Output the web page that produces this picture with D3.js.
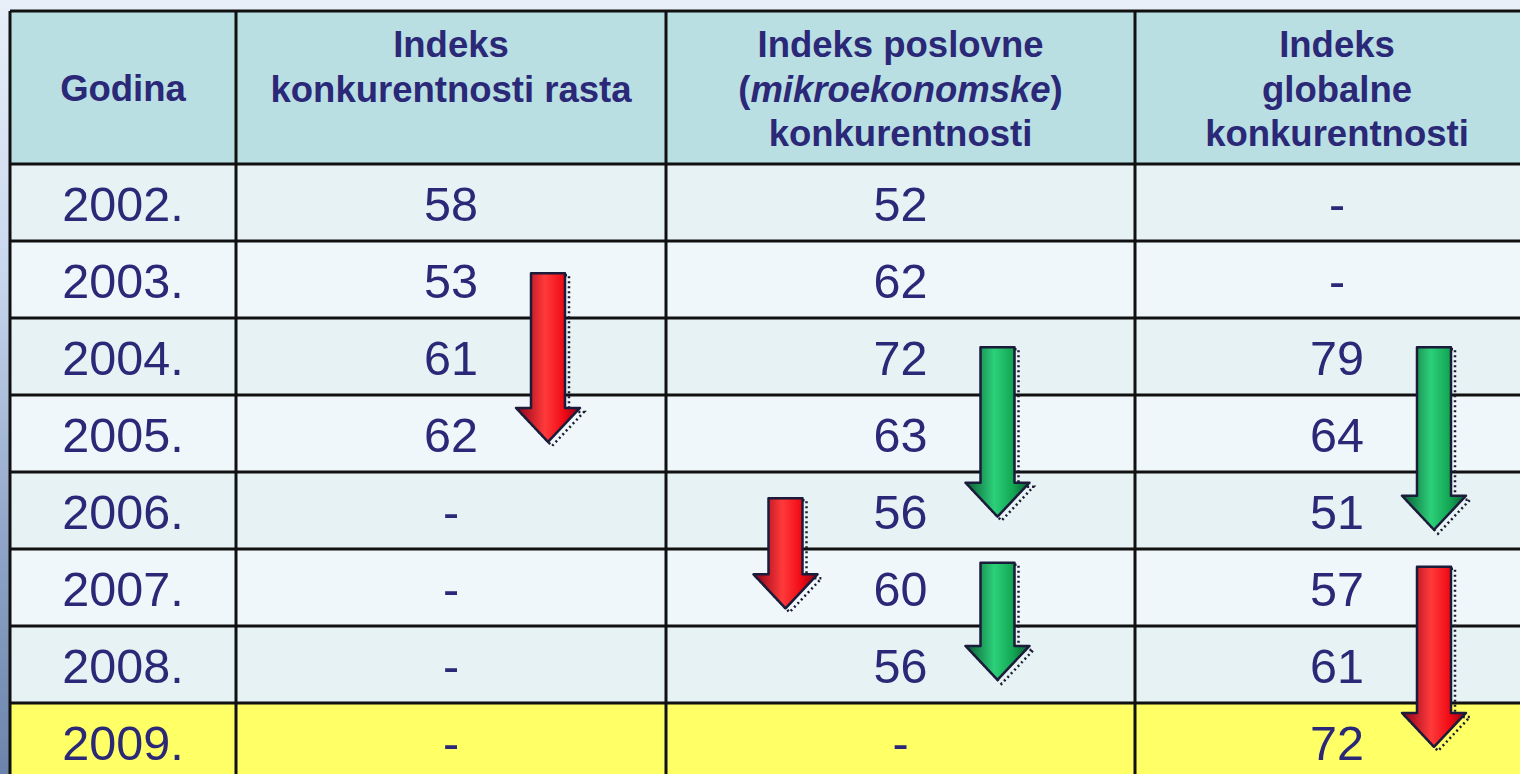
<!DOCTYPE html>
<html>
<head>
<meta charset="utf-8">
<script src="https://cdn.jsdelivr.net/npm/d3@7"></script>
<style>
  html, body { margin: 0; padding: 0; overflow: hidden; }
  svg { display: block; }
</style>
</head>
<body>
<svg id="chart" width="1520" height="774"></svg>
<script>
// ---- Data ----
const years = ["2002.", "2003.", "2004.", "2005.", "2006.", "2007.", "2008.", "2009."];
const growthIndex = ["58", "53", "61", "62", "-", "-", "-", "-"];
const businessIndex = ["52", "62", "72", "63", "56", "60", "56", "-"];
const globalIndex = ["-", "-", "79", "64", "51", "57", "61", "72"];
const highlightYears = ["2009."];

// arrows: column, side of the value, start/end in row units, colour
const arrows = [
  { col: 1, side: "right", start: 1.42, end: 3.61, color: "red" },
  { col: 2, side: "right", start: 2.38, end: 4.58, color: "green" },
  { col: 2, side: "left",  start: 4.34, end: 5.77, color: "red" },
  { col: 2, side: "right", start: 5.18, end: 6.70, color: "green" },
  { col: 3, side: "right", start: 2.38, end: 4.75, color: "green" },
  { col: 3, side: "right", start: 5.23, end: 7.57, color: "red" }
];

// ---- Layout ----
const W = 1520, H = 774;
const colEdges = [10, 236, 666, 1135, 1539];
const headTop = 11, headBottom = 164, rowH = 77;
const textColor = "#2a2877";

const svg = d3.select("#chart");
const defs = svg.append("defs");

// background
const bg = defs.append("linearGradient").attr("id", "bg").attr("x1", 0).attr("y1", 0).attr("x2", 0).attr("y2", 1);
bg.append("stop").attr("offset", "0%").attr("stop-color", "#e8eff9");
bg.append("stop").attr("offset", "35%").attr("stop-color", "#c9d7ee");
bg.append("stop").attr("offset", "70%").attr("stop-color", "#8fa4c8");
bg.append("stop").attr("offset", "100%").attr("stop-color", "#6c84ab");
svg.append("rect").attr("width", W).attr("height", H).attr("fill", "url(#bg)");

// arrow gradients
function arrowGrad(id, dark, mid, light) {
  const gr = defs.append("linearGradient").attr("id", id).attr("x1", 0).attr("y1", 0).attr("x2", 1).attr("y2", 0);
  gr.append("stop").attr("offset", "0%").attr("stop-color", dark);
  gr.append("stop").attr("offset", "45%").attr("stop-color", light);
  gr.append("stop").attr("offset", "75%").attr("stop-color", mid);
  gr.append("stop").attr("offset", "100%").attr("stop-color", dark);
}
arrowGrad("gred", "#8a0018", "#f00a14", "#ff3a3a");
arrowGrad("ggreen", "#0a5a32", "#12a552", "#2cd07a");

// ---- Scales ----
const x = d3.scaleOrdinal().domain([0, 1, 2, 3]).range([0, 1, 2, 3].map(i => (colEdges[i] + colEdges[i + 1]) / 2));
const y = d3.scaleBand().domain(years).range([headBottom, headBottom + rowH * years.length]);
const yRow = d3.scaleLinear().domain([0, years.length]).range([headBottom, headBottom + rowH * years.length]);

const g = svg.append("g");

// header
g.append("rect")
  .attr("x", colEdges[0]).attr("y", headTop)
  .attr("width", colEdges[4] - colEdges[0]).attr("height", headBottom - headTop)
  .attr("fill", "#b9dfe2");

// rows
g.selectAll(".row").data(years).join("rect")
  .attr("class", "row")
  .attr("x", colEdges[0]).attr("y", d => y(d))
  .attr("width", colEdges[4] - colEdges[0]).attr("height", y.bandwidth())
  .attr("fill", (d, i) => highlightYears.includes(d) ? "#ffff66" : (i % 2 === 0 ? "#e6f2f4" : "#f0f7fa"));

// ---- Header text ----
const headers = [
  [["Godina"]],
  [["Indeks"], ["konkurentnosti rasta"]],
  [["Indeks poslovne"], ["(", ["mikroekonomske"], ")"], ["konkurentnosti"]],
  [["Indeks"], ["globalne"], ["konkurentnosti"]]
];
headers.forEach((lines, ci) => {
  const t = g.append("text")
    .attr("text-anchor", "middle")
    .attr("font-family", "Liberation Sans, Arial, sans-serif")
    .attr("font-weight", "bold")
    .attr("font-size", 36.5)
    .attr("fill", textColor);
  lines.forEach((parts, li) => {
    const by = ci === 0 ? 101 : 57 + li * 44.5;
    const line = t.append("tspan").attr("x", x(ci)).attr("y", by);
    parts.forEach(p => {
      if (Array.isArray(p)) line.append("tspan").attr("font-style", "italic").text(p[0]);
      else line.append("tspan").text(p);
    });
  });
});

// ---- Body text ----
const columns = [years, growthIndex, businessIndex, globalIndex];
columns.forEach((vals, ci) => {
  g.selectAll(".c" + ci).data(vals).join("text")
    .attr("class", "c" + ci)
    .attr("x", x(ci))
    .attr("y", (d, i) => y(years[i]) + y.bandwidth() / 2 + 18)
    .attr("text-anchor", "middle")
    .attr("font-family", "Liberation Sans, Arial, sans-serif")
    .attr("font-size", 48.5)
    .attr("fill", textColor)
    .text(d => d);
});

// ---- Grid lines ----
const bottom = headBottom + rowH * years.length;
g.selectAll(".hline").data([headTop, headBottom].concat(years.slice(1).map(d => y(d)))).join("line")
  .attr("class", "hline")
  .attr("x1", colEdges[0]).attr("x2", colEdges[4])
  .attr("y1", d => d).attr("y2", d => d)
  .attr("stroke", "#111").attr("stroke-width", 3);
g.selectAll(".vline").data(colEdges.slice(0, 4)).join("line")
  .attr("class", "vline")
  .attr("x1", d => d).attr("x2", d => d)
  .attr("y1", headTop).attr("y2", bottom)
  .attr("stroke", "#111").attr("stroke-width", 3);

// ---- Arrows ----
const sideOffset = { right: 97, left: -115 };
function arrowPath(cx, y0, y1) {
  const sw = 17, hw = 32, hl = 34;
  return `M${cx - sw},${y0} L${cx + sw},${y0} L${cx + sw},${y1 - hl} L${cx + hw},${y1 - hl} L${cx},${y1} L${cx - hw},${y1 - hl} L${cx - sw},${y1 - hl} Z`;
}
const ag = g.selectAll(".arrow").data(arrows).join("g").attr("class", "arrow");
// speckled shadow
ag.append("path")
  .attr("d", d => arrowPath(x(d.col) + sideOffset[d.side] + 4, yRow(d.start) + 2, yRow(d.end) + 4))
  .attr("fill", "none")
  .attr("stroke", "#1a1a30")
  .attr("stroke-width", 2.5)
  .attr("stroke-dasharray", "2 3");
ag.append("path")
  .attr("d", d => arrowPath(x(d.col) + sideOffset[d.side], yRow(d.start), yRow(d.end)))
  .attr("fill", d => d.color === "red" ? "url(#gred)" : "url(#ggreen)")
  .attr("stroke", "#1b1b3a")
  .attr("stroke-width", 2.5)
  .attr("stroke-linejoin", "round");
</script>
</body>
</html>
